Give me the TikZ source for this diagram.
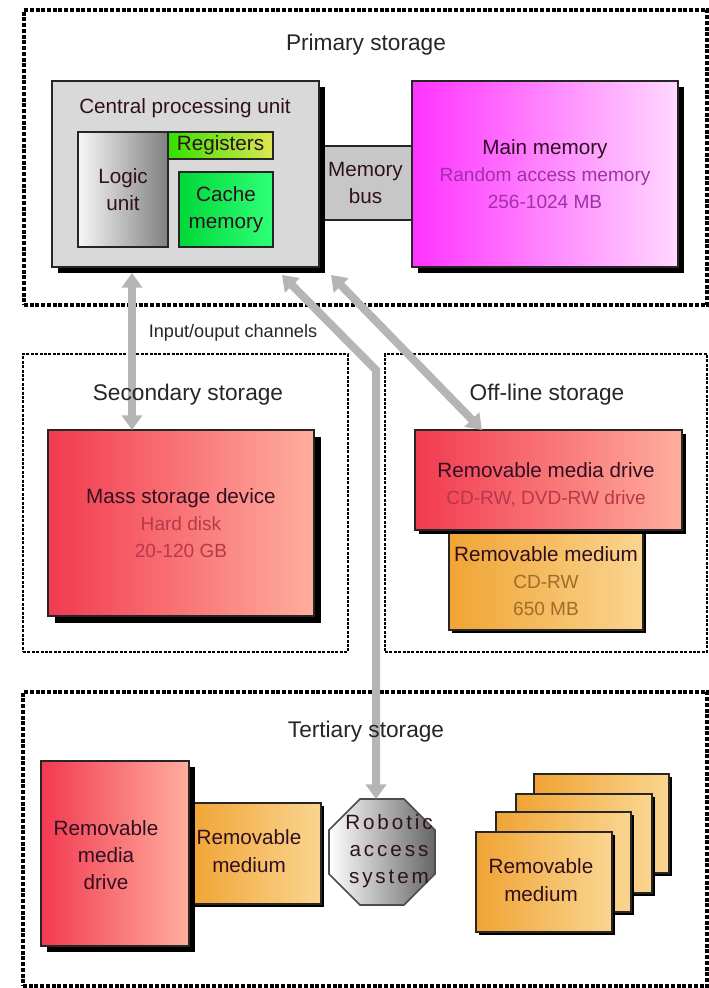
\documentclass[tikz,border=0pt]{standalone}
\usepackage{fontspec}
\setmainfont{Liberation Sans}
\usetikzlibrary{arrows.meta,shapes.geometric,shadows,calc}
\definecolor{redL}{HTML}{F23A50}\definecolor{redR}{HTML}{FFAE9E}
\definecolor{orL}{HTML}{F0A434}\definecolor{orR}{HTML}{FAD590}
\definecolor{magL}{HTML}{FF33FF}\definecolor{magR}{HTML}{FFD8FF}
\definecolor{regL}{HTML}{33E000}\definecolor{regR}{HTML}{DDE850}
\definecolor{cacheL}{HTML}{00D838}\definecolor{cacheR}{HTML}{30FF78}
\definecolor{arrowgray}{HTML}{B5B5B5}
\definecolor{subPurple}{HTML}{A030A8}
\definecolor{subRed}{HTML}{B83848}
\definecolor{subOr}{HTML}{A06C28}
\definecolor{mainDark}{HTML}{301020}
\tikzset{
  x=0.75pt,y=-0.75pt,
  box/.style={draw=black!85,line width=1.4pt,inner sep=0pt,outer sep=0pt,align=center,
     font=\fontsize{15.5}{20.5}\selectfont,text=mainDark},
  shad/.style={general shadow={fill=black,shadow xshift=#1*0.75pt,shadow yshift=-#1*0.75pt}},
  redbox/.style={box,left color=redL,right color=redR},
  orbox/.style={box,left color=orL,right color=orR},
  magbox/.style={box,left color=magL,right color=magR},
  framebig/.style={draw=black,line width=2.8pt,dash pattern=on 3pt off 1.3pt,inner sep=0pt,outer sep=0pt},
  framesmall/.style={draw=black,line width=2pt,dash pattern=on 2.2pt off 1.1pt,inner sep=0pt,outer sep=0pt},
  heading/.style={font=\fontsize{17}{20}\selectfont,text=black!85,inner sep=0pt},
  lbl/.style={font=\fontsize{15.5}{20.5}\selectfont,text=mainDark,inner sep=0pt,align=center},
  channel/.style={draw=arrowgray,line width=6pt,{Triangle[width=15pt,length=11pt,fill=arrowgray]}-{Triangle[width=15pt,length=11pt,fill=arrowgray]}},
}
\newcommand{\bx}[7]{\node[#6,minimum width={(#4-#2)*0.75pt},minimum height={(#5-#3)*0.75pt}] (#1) at ({(#2+#4)/2},{(#3+#5)/2}) {#7};}
\newcommand{\subline}[2]{{\fontsize{14.3}{20.5}\selectfont\textcolor{#1}{#2}}}
\begin{document}
\begin{tikzpicture}
\useasboundingbox[fill=white] (0,0) rectangle (709,988);
% frames
\bx{primary}{24}{10}{707}{305}{framebig}{}
\bx{secondary}{23}{354}{348}{652}{framesmall}{}
\bx{offline}{385}{354}{707}{652}{framesmall}{}
\bx{tertiary}{23}{692}{707}{986}{framebig}{}
% primary storage boxes
\bx{bus}{319}{146}{412}{220}{box,fill=black!22}{Memory\\bus}
\bx{cpu}{52}{81}{319}{267}{box,fill=black!15,shad=6}{}
\bx{mainmem}{412}{81}{678}{267}{magbox,shad=6}{Main memory\\\subline{subPurple}{Random access memory}\\\subline{subPurple}{256-1024 MB}}
\bx{registers}{168}{132}{273}{159}{box,left color=regL,right color=regR}{Registers}
\bx{logic}{78}{132}{168}{247}{box,left color=black!3,right color=black!50}{Logic\\unit}
\bx{cache}{179}{172}{273}{247}{box,left color=cacheL,right color=cacheR}{Cache\\memory}
% secondary
\bx{mass}{48}{430}{314}{616}{redbox,shad=7}{Mass storage device\\\subline{subRed}{Hard disk}\\\subline{subRed}{20-120 GB}}
% off-line
\bx{omedium}{449}{530}{643}{630}{orbox,shad=3}{}
\bx{odrive}{415}{430}{682}{530}{redbox,shad=4}{}
% tertiary
\bx{tmedium}{189}{803}{321}{904}{orbox,shad=3}{}
\bx{tdrive}{41}{761}{189}{946}{redbox,shad=6}{}
\node[regular polygon,regular polygon sides=8,minimum size=86pt,inner sep=0pt,outer sep=0pt,
  draw=black!70,line width=1.2pt,left color=white,right color=black!60] (robot) at (382,852) {};
\bx{stackd}{534}{774}{669}{873}{orbox,shad=3}{}
\bx{stackc}{516}{794}{652}{893}{orbox,shad=3}{}
\bx{stackb}{496}{812}{631}{912}{orbox,shad=3}{}
\bx{stacka}{476}{832}{612}{932}{orbox,shad=3}{}
% channels
\draw[channel] ([shift={(80,6)}]cpu.south west) -- ([shift={(84,0)}]mass.north west);
\coordinate (bend) at (376,370);
\draw[channel] ([shift={(230,8)}]cpu.south west) -- (bend) -- (bend |- robot.north);
\draw[channel] ([shift={(279,8)}]cpu.south west) -- ([shift={(67,0)}]odrive.north west);
% labels
\node[heading] (primarylabel) at (366,45) {Primary storage};
\node[heading] (secondarylabel) at (188,395) {Secondary storage};
\node[heading] (offlinelabel) at (547,395) {Off-line storage};
\node[heading] (tertiarylabel) at (366,732) {Tertiary storage};
\node[lbl] (cpulabel) at (185,108) {Central processing unit};
\node[inner sep=0pt,font=\fontsize{13.6}{16}\selectfont,text=black!85] (iolabel) at (233,333) {Input/ouput channels};
\node[lbl] (odrivelabel) at (546,484.5) {Removable media drive\\\subline{subRed}{CD-RW, DVD-RW drive}};
\node[lbl] (omediumlabel) at (546,581) {Removable medium\\\subline{subOr}{CD-RW}\\\subline{subOr}{650 MB}};
\node[lbl] (tdrivelabel) at (106,855) {Removable\\media\\drive};
\node[lbl] (tmediumlabel) at (249,851) {Removable\\medium};
\node[lbl] (robotlabel) at (389,851) {\addfontfeature{LetterSpace=14}Robotic\\\addfontfeature{LetterSpace=14}access\\\addfontfeature{LetterSpace=14}system};
\node[lbl] (stacklabel) at (541,880) {Removable\\medium};
\end{tikzpicture}
\end{document}
